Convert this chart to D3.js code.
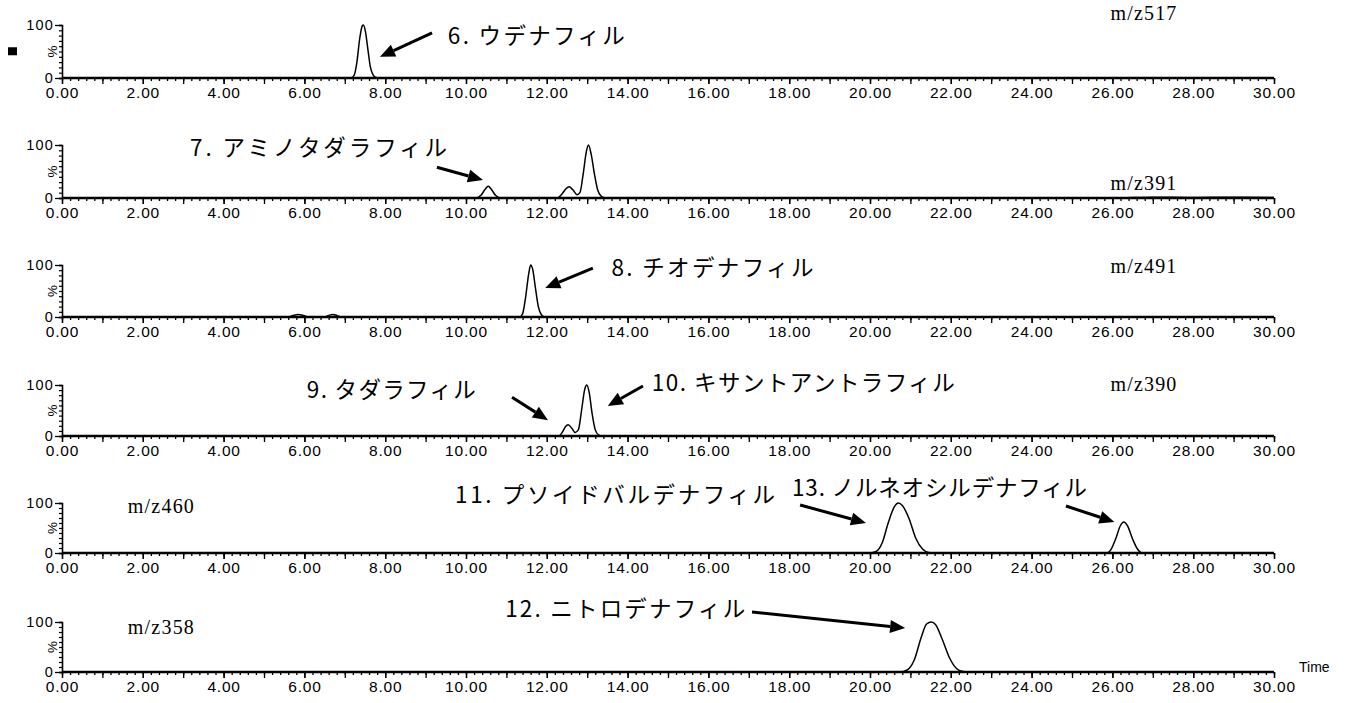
<!DOCTYPE html>
<html><head><meta charset="utf-8">
<script src="https://cdn.jsdelivr.net/npm/d3@7"></script>
<style>body{margin:0;background:#fff}</style>
</head><body><svg id="c" width="1351" height="703"></svg>
<script>
// ---------- data ----------
const timeDomain = [0, 30];
const xTickValues = [0,2,4,6,8,10,12,14,16,18,20,22,24,26,28,30];
const xTickLabels = ["0.00","2.00","4.00","6.00","8.00","10.00","12.00","14.00","16.00","18.00","20.00","22.00","24.00","26.00","28.00","30.00"];
const yTickValues = [0, 100];
const yTickLabels = ["0", "100"];
const mzLabels = ["m/z517","m/z391","m/z491","m/z390","m/z460","m/z358"];

const trace517 = [[0,0],[7.15,0],[7.23,5],[7.3,30],[7.37,75],[7.43,98],[7.46,100],[7.51,88],[7.57,55],[7.63,22],[7.7,6],[7.77,1],[7.85,0],[30,0]];
const trace391 = [[0,0],[10.25,0],[10.37,5],[10.47,16],[10.55,22],[10.63,16],[10.73,5],[10.85,0],[12.25,0],[12.37,7],[12.47,17],[12.55,21],[12.65,15],[12.75,6],[12.82,10],[12.9,45],[12.98,88],[13.03,100],[13.1,82],[13.18,45],[13.26,15],[13.35,3],[13.45,0],[26,0],[27,1.5],[28,1],[29,1.5],[30,1]];
const trace491 = [[0,0],[5.6,0],[5.72,3],[5.85,5],[5.98,3],[6.1,0],[6.5,0],[6.6,3],[6.7,5],[6.8,3],[6.92,0],[11.33,0],[11.4,6],[11.47,35],[11.55,82],[11.6,100],[11.65,92],[11.72,55],[11.79,20],[11.87,4],[11.95,0],[30,0]];
const trace390 = [[0,0],[12.3,0],[12.38,7],[12.46,18],[12.53,22],[12.62,15],[12.7,7],[12.78,12],[12.86,50],[12.94,92],[12.99,100],[13.05,85],[13.12,45],[13.2,12],[13.28,2],[13.35,0],[30,0]];
const trace460 = [[0,0],[20.0,0],[20.15,3],[20.3,20],[20.45,60],[20.6,92],[20.7,100],[20.8,95],[20.97,68],[21.13,30],[21.3,8],[21.45,1],[21.55,0],[25.85,0],[25.95,5],[26.08,28],[26.2,55],[26.28,62],[26.37,55],[26.5,28],[26.62,8],[26.75,0],[30,0]];
const trace358 = [[0,0],[20.75,0],[20.92,4],[21.1,25],[21.27,70],[21.4,96],[21.52,100],[21.62,95],[21.79,65],[21.97,28],[22.14,7],[22.3,1],[22.42,0],[30,0]];
const traces = [trace517, trace391, trace491, trace390, trace460, trace358];

const compoundLabels = ["6. ウデナフィル","7. アミノタダラフィル","8. チオデナフィル","9. タダラフィル","10. キサントアントラフィル","11. プソイドバルデナフィル","13. ノルネオシルデナフィル","12. ニトロデナフィル"];
const compoundPanels = [0,1,2,3,3,4,4,5];

// ---------- layout (positions in data units of each panel) ----------
const panelTop = [25,145,265,385,503,622];
const panelBottom = [78,198,317,436,553,672];
const xRange = [62, 1274];
const labelAnchors = [[9.55,79],[3.17,94],[13.6,94],[6.06,90],[14.6,104],[9.73,116],[18.07,130],[10.97,126]];
const labelWidths = [177,257,202,169,303,320,295,240];
const arrowPanels = [0,1,2,3,3,4,4,5];
const arrowTails = [[9.16,85],[9.28,58],[13.14,94],[11.14,76],[14.38,98],[18.27,96],[24.85,94],[17.08,120]];
const arrowHeads = [[7.87,40],[10.42,34],[11.96,56],[12.03,31],[13.51,59],[19.9,60],[26.05,62],[20.87,88]];
const mzAnchors = [[25.95,123],[25.95,28],[25.95,98],[25.95,102],[1.63,94],[1.63,90]];

const svg = d3.select("#c");
const x = d3.scaleLinear().domain(timeDomain).range(xRange);
const ys = panelTop.map((t,i)=>d3.scaleLinear().domain([0,100]).range([panelBottom[i], t]));

const tickFont = "'Liberation Sans', Arial, sans-serif";
const line = (y)=>d3.line().x(d=>x(d[0])).y(d=>y(d[1])).curve(d3.curveMonotoneX);

traces.forEach((tr,i)=>{
  const g = svg.append("g");
  const y = ys[i];
  g.append("g").attr("transform",`translate(0,${panelBottom[i]})`)
    .call(d3.axisBottom(x).tickValues(d3.range(0,30.001,0.2)).tickSize(3).tickFormat(""))
    .call(a=>a.select(".domain").remove());
  g.append("g").attr("transform",`translate(0,${panelBottom[i]})`)
    .call(d3.axisBottom(x).tickValues(d3.range(0,31,1)).tickSize(6).tickFormat(""))
    .call(a=>a.select(".domain").remove());
  const ax = g.append("g").attr("transform",`translate(0,${panelBottom[i]})`)
    .call(d3.axisBottom(x).tickValues(xTickValues).tickSize(6).tickPadding(3).tickFormat((d,k)=>xTickLabels[k]));
  ax.select(".domain").remove();
  ax.selectAll("text").attr("font-family",tickFont).attr("font-size",15.5).attr("letter-spacing",0.8).attr("fill","#000");
  g.selectAll("line").attr("stroke","#000").attr("stroke-width",1.3);
  g.append("line").attr("x1",x(0)).attr("x2",x(30)).attr("y1",panelBottom[i]).attr("y2",panelBottom[i])
    .attr("stroke","#000").attr("stroke-width",2.6);
  const yg = g.append("g").attr("transform",`translate(${x(0)},0)`)
    .call(d3.axisLeft(y).tickValues(d3.range(0,101,10)).tickSize(3).tickFormat(""));
  yg.select(".domain").attr("stroke","#000").attr("stroke-width",1.6);
  yg.selectAll("line").attr("stroke","#000").attr("stroke-width",1.2);
  const yl = g.append("g").attr("transform",`translate(${x(0)},0)`)
    .call(d3.axisLeft(y).tickValues(yTickValues).tickSize(7).tickPadding(1).tickFormat((d,k)=>yTickLabels[k]));
  yl.select(".domain").remove();
  yl.selectAll("line").attr("stroke","#000").attr("stroke-width",1.3);
  yl.selectAll("text").attr("font-family",tickFont).attr("font-size",14.5).attr("letter-spacing",1.2).attr("fill","#000");
  g.append("text").text("%").attr("font-family",tickFont).attr("font-size",13.5)
    .attr("transform",`translate(${x(0)-5},${y(50)}) rotate(-90)`).attr("text-anchor","middle");
  g.append("path").datum(tr).attr("d",line(y)).attr("fill","none").attr("stroke","#000").attr("stroke-width",1.5);
  g.append("text").text(mzLabels[i]).attr("x",x(mzAnchors[i][0])).attr("y",y(mzAnchors[i][1]))
    .attr("dy","0.35em").attr("font-family","'Liberation Serif','DejaVu Serif',serif").attr("font-size",20)
    .attr("letter-spacing",1.2).attr("fill","#000");
});

compoundLabels.forEach((txt,k)=>{
  const p = compoundPanels[k];
  svg.append("text").text(txt).attr("x",x(labelAnchors[k][0])).attr("y",ys[p](labelAnchors[k][1]))
    .attr("dy","0.35em").attr("font-family","'Noto Sans CJK JP',sans-serif").attr("font-size",22.5)
    .attr("textLength",labelWidths[k]).attr("lengthAdjust","spacing").attr("fill","#000");
});

arrowTails.forEach((t,k)=>{
  const p = arrowPanels[k];
  const x1 = x(t[0]), y1 = ys[p](t[1]), x2 = x(arrowHeads[k][0]), y2 = ys[p](arrowHeads[k][1]);
  const ang = Math.atan2(y2-y1, x2-x1);
  const L = 15, W = 6.5;
  const bx = x2 - L*Math.cos(ang), by = y2 - L*Math.sin(ang);
  svg.append("line").attr("x1",x1).attr("y1",y1).attr("x2",bx).attr("y2",by).attr("stroke","#000").attr("stroke-width",3);
  const pts = [[x2,y2],[bx + W*Math.sin(ang), by - W*Math.cos(ang)],[bx - W*Math.sin(ang), by + W*Math.cos(ang)]];
  svg.append("polygon").attr("points",pts.map(q=>q.join(",")).join(" ")).attr("fill","#000");
});

svg.append("rect").attr("x",x(0)-54).attr("y",ys[0](58)).attr("width",9).attr("height",8).attr("fill","#000");
svg.append("text").text("Time").attr("x",x(30)+25).attr("y",panelBottom[5]).attr("font-family",tickFont)
  .attr("font-size",14).attr("fill","#000");
</script>
</body></html>
